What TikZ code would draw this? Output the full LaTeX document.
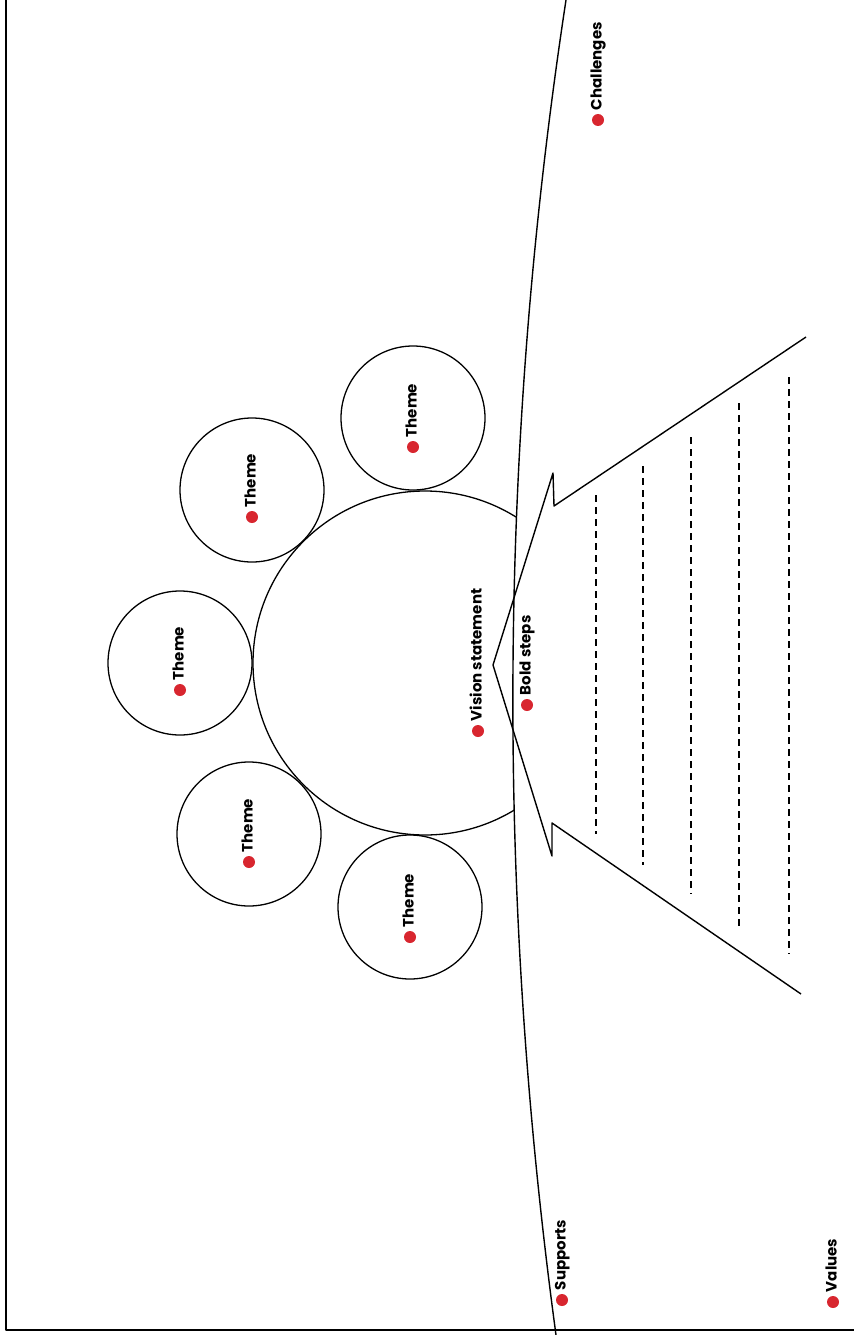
\documentclass[tikz,border=0pt]{standalone}
\usepackage{fontspec}
\setmainfont{Poppins}
\begin{document}
\begin{tikzpicture}[x=1pt,y=-1pt,
  line/.style={line width=1.4pt, black, line join=round},
  theme/.style={circle, draw, line width=1.3pt, minimum size=144pt, inner sep=0pt},
  dashline/.style={line width=1.5pt, dash pattern=on 7pt off 5pt},
  dot/.style={circle, fill=dotred, minimum size=12pt, inner sep=0pt},
  lbl/.style={rotate=90, anchor=west, font=\bfseries\fontsize{15}{15}\selectfont, inner xsep=3.5pt, inner ysep=0pt, text height=0.7em, text depth=0pt}
]
\definecolor{dotred}{HTML}{D8262F}
\useasboundingbox (0,0) rectangle (854,1335);
% page border
\coordinate (ptop) at (6,0);
\coordinate (pcorner) at (6,1330);
\coordinate (pright) at (854,1330);
\draw[line] (ptop) -- (pcorner) -- (pright);
% big curve
\coordinate (ctop) at (566,0);
\coordinate (cbot) at (556,1335);
\draw[line] (ctop) .. controls (498.7,442) and (495.3,887) .. (cbot);
% vision circle clipped by curve
\begin{scope}
  \clip (0,0) -- (ctop) .. controls (498.7,442) and (495.3,887) .. (cbot) -- (0,1335) -- cycle;
  \node[circle, draw, line width=1.3pt, minimum size=344pt, inner sep=0pt] (vision) at (425,663) {};
\end{scope}
% theme circles
\node[theme] (th1) at (413,418) {};
\node[theme] (th2) at (252,490) {};
\node[theme] (th3) at (180,663) {};
\node[theme] (th4) at (249,834) {};
\node[theme] (th5) at (410,907) {};
% funnel
\coordinate (a1) at (806,337);
\coordinate (a2) at (554,506);
\coordinate (a3) at (553,473);
\coordinate (tip) at (493,665);
\coordinate (b3) at (552,856);
\coordinate (b2) at (552,823);
\coordinate (b1) at (801,994);
\draw[line] (a1) -- (a2) -- (a3) -- (tip) -- (b3) -- (b2) -- (b1);
% dashed lines
\coordinate (d1t) at (596,495); \coordinate (d1b) at (596,834);
\coordinate (d2t) at (643,466); \coordinate (d2b) at (643,865);
\coordinate (d3t) at (691,437); \coordinate (d3b) at (691,894);
\coordinate (d4t) at (739,403); \coordinate (d4b) at (739,928);
\coordinate (d5t) at (789,377); \coordinate (d5b) at (789,954);
\draw[dashline] (d1t) -- (d1b);
\draw[dashline] (d2t) -- (d2b);
\draw[dashline] (d3t) -- (d3b);
\draw[dashline] (d4t) -- (d4b);
\draw[dashline] (d5t) -- (d5b);
% labels
\node[dot] (t1dot) at (413,447) {}; \node[lbl] (t1lbl) at (t1dot.north) {Theme};
\node[dot] (t2dot) at (252,517) {}; \node[lbl] (t2lbl) at (t2dot.north) {Theme};
\node[dot] (t3dot) at (180,690) {}; \node[lbl] (t3lbl) at (t3dot.north) {Theme};
\node[dot] (t4dot) at (249,862) {}; \node[lbl] (t4lbl) at (t4dot.north) {Theme};
\node[dot] (t5dot) at (410,937) {}; \node[lbl] (t5lbl) at (t5dot.north) {Theme};
\node[dot] (vdot) at (478,731) {}; \node[lbl] (vlbl) at (vdot.north) {Vision statement};
\node[dot] (bdot) at (527,705) {}; \node[lbl] (blbl) at (bdot.north) {Bold steps};
\node[dot] (cdot) at (598,120) {}; \node[lbl] (clbl) at (cdot.north) {Challenges};
\node[dot] (sdot) at (562,1300) {}; \node[lbl] (slbl) at (sdot.north) {Supports};
\node[dot] (valdot) at (833,1302) {}; \node[lbl] (vallbl) at (valdot.north) {Values};
\end{tikzpicture}
\end{document}
